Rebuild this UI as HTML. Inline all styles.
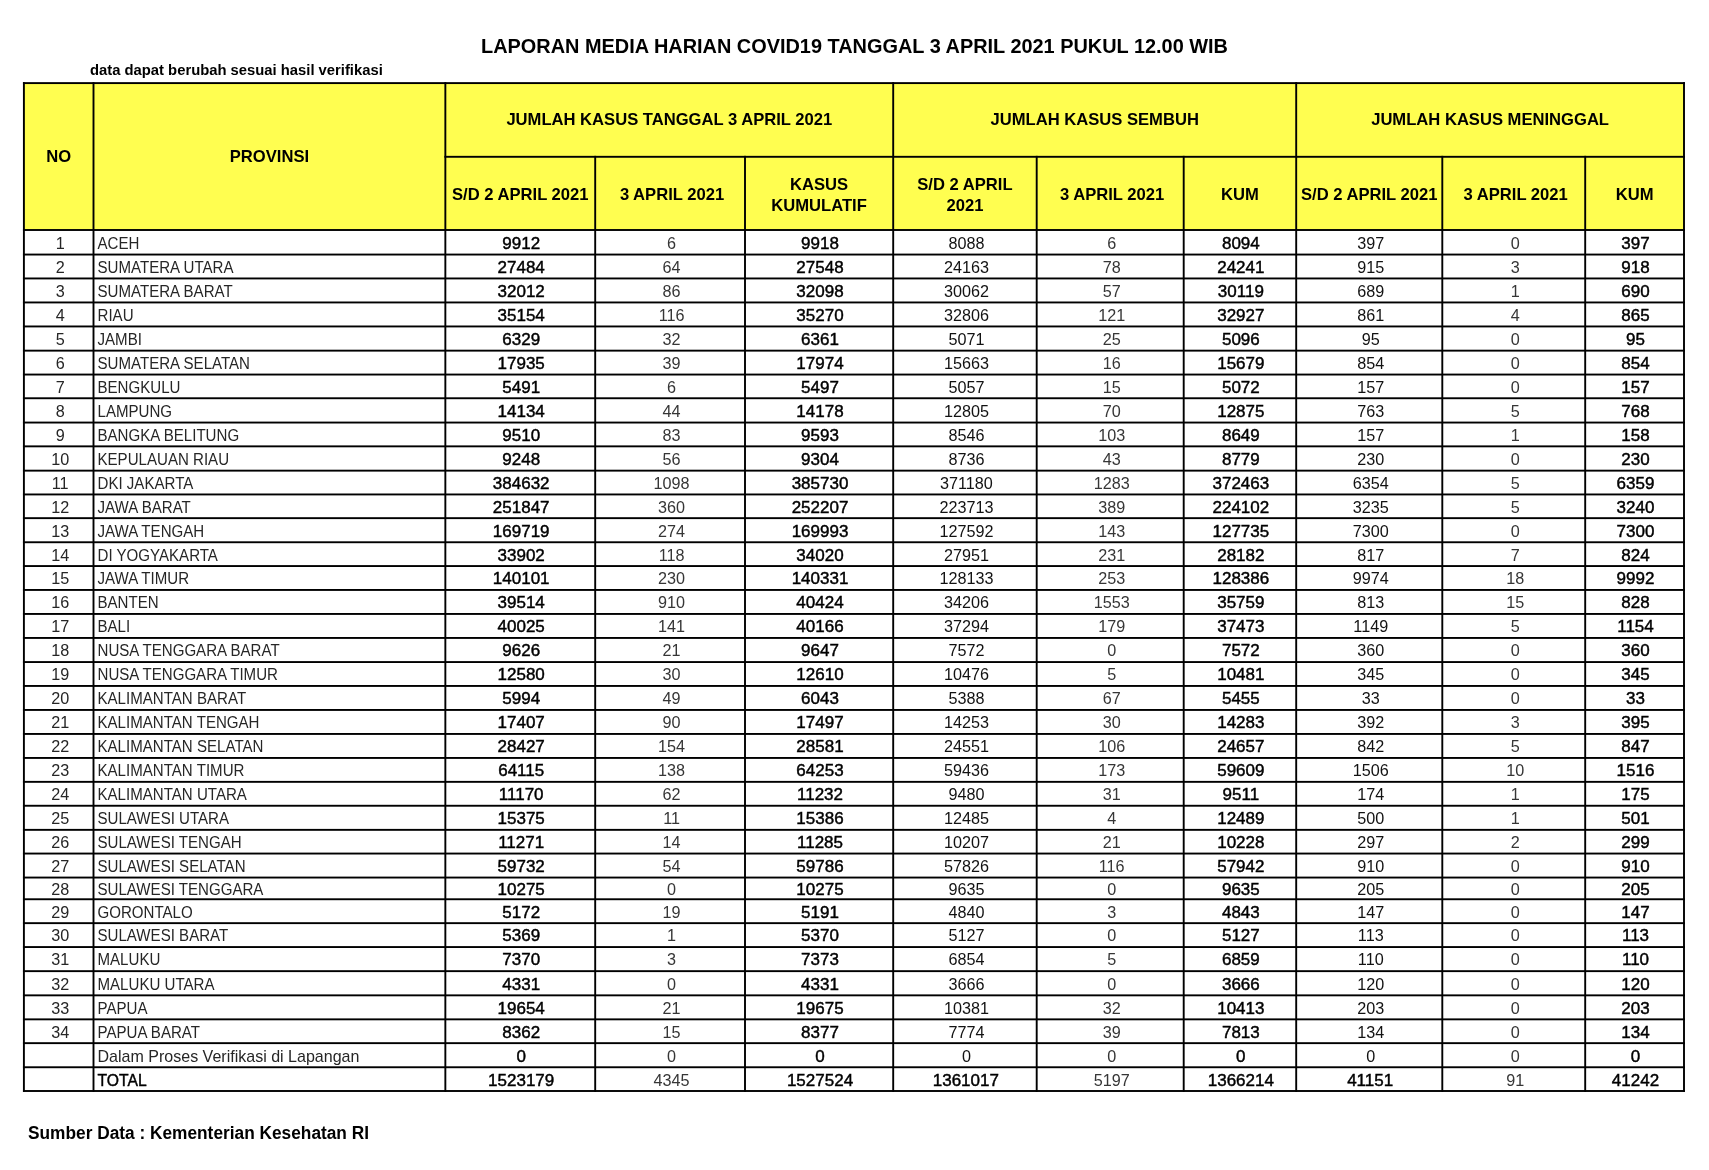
<!DOCTYPE html><html><head><meta charset="utf-8"><style>
html,body{margin:0;padding:0;background:#fff;width:1709px;height:1170px;overflow:hidden}
svg{position:absolute;left:0;top:0;will-change:transform}
text{font-family:"Liberation Sans",sans-serif;fill:#000}
.h{font-weight:bold;font-size:16.6px}
.r{font-size:16.2px;fill:#262626}
.n{font-size:15.1px}
.n2{font-size:16.05px}
.b{font-size:17.0px;stroke:#000;stroke-width:0.45px}
.g{fill:#363636}
.k{fill:#121212}
.m{text-anchor:middle}
</style></head><body>
<svg width="1709" height="1170" viewBox="0 0 1709 1170">
<rect x="23.90" y="83.10" width="1660.10" height="146.70" fill="#FFFE50"/>
<rect x="22.95" y="82.15" width="1662.00" height="1.90" fill="#000"/>
<rect x="444.40" y="155.85" width="1240.55" height="1.90" fill="#000"/>
<rect x="22.95" y="229.05" width="1662.00" height="1.90" fill="#000"/>
<rect x="22.95" y="253.60" width="1662.00" height="1.90" fill="#000"/>
<rect x="22.95" y="277.50" width="1662.00" height="1.90" fill="#000"/>
<rect x="22.95" y="301.50" width="1662.00" height="1.90" fill="#000"/>
<rect x="22.95" y="325.50" width="1662.00" height="1.90" fill="#000"/>
<rect x="22.95" y="349.70" width="1662.00" height="1.90" fill="#000"/>
<rect x="22.95" y="373.60" width="1662.00" height="1.90" fill="#000"/>
<rect x="22.95" y="397.30" width="1662.00" height="1.90" fill="#000"/>
<rect x="22.95" y="421.60" width="1662.00" height="1.90" fill="#000"/>
<rect x="22.95" y="445.40" width="1662.00" height="1.90" fill="#000"/>
<rect x="22.95" y="469.70" width="1662.00" height="1.90" fill="#000"/>
<rect x="22.95" y="493.50" width="1662.00" height="1.90" fill="#000"/>
<rect x="22.95" y="517.20" width="1662.00" height="1.90" fill="#000"/>
<rect x="22.95" y="541.30" width="1662.00" height="1.90" fill="#000"/>
<rect x="22.95" y="565.10" width="1662.00" height="1.90" fill="#000"/>
<rect x="22.95" y="589.00" width="1662.00" height="1.90" fill="#000"/>
<rect x="22.95" y="613.00" width="1662.00" height="1.90" fill="#000"/>
<rect x="22.95" y="637.00" width="1662.00" height="1.90" fill="#000"/>
<rect x="22.95" y="661.10" width="1662.00" height="1.90" fill="#000"/>
<rect x="22.95" y="685.00" width="1662.00" height="1.90" fill="#000"/>
<rect x="22.95" y="709.00" width="1662.00" height="1.90" fill="#000"/>
<rect x="22.95" y="733.00" width="1662.00" height="1.90" fill="#000"/>
<rect x="22.95" y="757.00" width="1662.00" height="1.90" fill="#000"/>
<rect x="22.95" y="780.90" width="1662.00" height="1.90" fill="#000"/>
<rect x="22.95" y="804.80" width="1662.00" height="1.90" fill="#000"/>
<rect x="22.95" y="828.90" width="1662.00" height="1.90" fill="#000"/>
<rect x="22.95" y="852.60" width="1662.00" height="1.90" fill="#000"/>
<rect x="22.95" y="876.60" width="1662.00" height="1.90" fill="#000"/>
<rect x="22.95" y="898.30" width="1662.00" height="1.90" fill="#000"/>
<rect x="22.95" y="922.20" width="1662.00" height="1.90" fill="#000"/>
<rect x="22.95" y="946.10" width="1662.00" height="1.90" fill="#000"/>
<rect x="22.95" y="970.20" width="1662.00" height="1.90" fill="#000"/>
<rect x="22.95" y="994.40" width="1662.00" height="1.90" fill="#000"/>
<rect x="22.95" y="1018.40" width="1662.00" height="1.90" fill="#000"/>
<rect x="22.95" y="1042.20" width="1662.00" height="1.90" fill="#000"/>
<rect x="22.95" y="1066.30" width="1662.00" height="1.90" fill="#000"/>
<rect x="22.95" y="1090.05" width="1662.00" height="1.90" fill="#000"/>
<rect x="22.95" y="82.15" width="1.90" height="1009.80" fill="#000"/>
<rect x="92.55" y="82.15" width="1.90" height="1009.80" fill="#000"/>
<rect x="444.40" y="82.15" width="1.90" height="1009.80" fill="#000"/>
<rect x="594.25" y="155.85" width="1.90" height="936.10" fill="#000"/>
<rect x="744.05" y="155.85" width="1.90" height="936.10" fill="#000"/>
<rect x="892.25" y="82.15" width="1.90" height="1009.80" fill="#000"/>
<rect x="1035.75" y="155.85" width="1.90" height="936.10" fill="#000"/>
<rect x="1182.75" y="155.85" width="1.90" height="936.10" fill="#000"/>
<rect x="1295.25" y="82.15" width="1.90" height="1009.80" fill="#000"/>
<rect x="1441.35" y="155.85" width="1.90" height="936.10" fill="#000"/>
<rect x="1584.25" y="155.85" width="1.90" height="936.10" fill="#000"/>
<rect x="1683.05" y="82.15" width="1.90" height="1009.80" fill="#000"/>
<text x="481" y="53" style="font-weight:bold;font-size:19.92px">LAPORAN MEDIA HARIAN COVID19 TANGGAL 3 APRIL 2021 PUKUL 12.00 WIB</text>
<text x="90" y="74.8" style="font-weight:bold;font-size:14.8px">data dapat berubah sesuai hasil verifikasi</text>
<text x="58.70" y="161.50" class="h m">NO</text>
<text x="269.43" y="161.50" class="h m">PROVINSI</text>
<text x="669.28" y="124.90" class="h m">JUMLAH KASUS TANGGAL 3 APRIL 2021</text>
<text x="1094.70" y="124.90" class="h m">JUMLAH KASUS SEMBUH</text>
<text x="1490.10" y="124.90" class="h m">JUMLAH KASUS MENINGGAL</text>
<text x="520.28" y="199.60" class="h m">S/D 2 APRIL 2021</text>
<text x="672.00" y="199.60" class="h m">3 APRIL 2021</text>
<text x="819.10" y="189.80" class="h m">KASUS</text>
<text x="819.10" y="210.90" class="h m">KUMULATIF</text>
<text x="964.95" y="189.80" class="h m">S/D 2 APRIL</text>
<text x="964.95" y="210.90" class="h m">2021</text>
<text x="1112.10" y="199.60" class="h m">3 APRIL 2021</text>
<text x="1239.95" y="199.60" class="h m">KUM</text>
<text x="1369.25" y="199.60" class="h m">S/D 2 APRIL 2021</text>
<text x="1515.65" y="199.60" class="h m">3 APRIL 2021</text>
<text x="1634.60" y="199.60" class="h m">KUM</text>
<text x="60.20" y="248.70" class="r m">1</text>
<text transform="translate(97.50 248.70) scale(0.9320 1)" class="r">ACEH</text>
<text x="521.18" y="248.70" class="b m">9912</text>
<text x="671.60" y="248.70" class="r g m">6</text>
<text x="820.00" y="248.70" class="b m">9918</text>
<text x="966.45" y="248.70" class="r k m">8088</text>
<text x="1111.70" y="248.70" class="r g m">6</text>
<text x="1240.85" y="248.70" class="b m">8094</text>
<text x="1370.75" y="248.70" class="r k m">397</text>
<text x="1515.25" y="248.70" class="r g m">0</text>
<text x="1635.50" y="248.70" class="b m">397</text>
<text x="60.20" y="272.85" class="r m">2</text>
<text transform="translate(97.50 272.85) scale(0.9320 1)" class="r">SUMATERA UTARA</text>
<text x="521.18" y="272.85" class="b m">27484</text>
<text x="671.60" y="272.85" class="r g m">64</text>
<text x="820.00" y="272.85" class="b m">27548</text>
<text x="966.45" y="272.85" class="r k m">24163</text>
<text x="1111.70" y="272.85" class="r g m">78</text>
<text x="1240.85" y="272.85" class="b m">24241</text>
<text x="1370.75" y="272.85" class="r k m">915</text>
<text x="1515.25" y="272.85" class="r g m">3</text>
<text x="1635.50" y="272.85" class="b m">918</text>
<text x="60.20" y="296.80" class="r m">3</text>
<text transform="translate(97.50 296.80) scale(0.9320 1)" class="r">SUMATERA BARAT</text>
<text x="521.18" y="296.80" class="b m">32012</text>
<text x="671.60" y="296.80" class="r g m">86</text>
<text x="820.00" y="296.80" class="b m">32098</text>
<text x="966.45" y="296.80" class="r k m">30062</text>
<text x="1111.70" y="296.80" class="r g m">57</text>
<text x="1240.85" y="296.80" class="b m">30119</text>
<text x="1370.75" y="296.80" class="r k m">689</text>
<text x="1515.25" y="296.80" class="r g m">1</text>
<text x="1635.50" y="296.80" class="b m">690</text>
<text x="60.20" y="320.80" class="r m">4</text>
<text transform="translate(97.50 320.80) scale(0.9320 1)" class="r">RIAU</text>
<text x="521.18" y="320.80" class="b m">35154</text>
<text x="671.60" y="320.80" class="r g m">116</text>
<text x="820.00" y="320.80" class="b m">35270</text>
<text x="966.45" y="320.80" class="r k m">32806</text>
<text x="1111.70" y="320.80" class="r g m">121</text>
<text x="1240.85" y="320.80" class="b m">32927</text>
<text x="1370.75" y="320.80" class="r k m">861</text>
<text x="1515.25" y="320.80" class="r g m">4</text>
<text x="1635.50" y="320.80" class="b m">865</text>
<text x="60.20" y="344.90" class="r m">5</text>
<text transform="translate(97.50 344.90) scale(0.9320 1)" class="r">JAMBI</text>
<text x="521.18" y="344.90" class="b m">6329</text>
<text x="671.60" y="344.90" class="r g m">32</text>
<text x="820.00" y="344.90" class="b m">6361</text>
<text x="966.45" y="344.90" class="r k m">5071</text>
<text x="1111.70" y="344.90" class="r g m">25</text>
<text x="1240.85" y="344.90" class="b m">5096</text>
<text x="1370.75" y="344.90" class="r k m">95</text>
<text x="1515.25" y="344.90" class="r g m">0</text>
<text x="1635.50" y="344.90" class="b m">95</text>
<text x="60.20" y="368.95" class="r m">6</text>
<text transform="translate(97.50 368.95) scale(0.9320 1)" class="r">SUMATERA SELATAN</text>
<text x="521.18" y="368.95" class="b m">17935</text>
<text x="671.60" y="368.95" class="r g m">39</text>
<text x="820.00" y="368.95" class="b m">17974</text>
<text x="966.45" y="368.95" class="r k m">15663</text>
<text x="1111.70" y="368.95" class="r g m">16</text>
<text x="1240.85" y="368.95" class="b m">15679</text>
<text x="1370.75" y="368.95" class="r k m">854</text>
<text x="1515.25" y="368.95" class="r g m">0</text>
<text x="1635.50" y="368.95" class="b m">854</text>
<text x="60.20" y="392.75" class="r m">7</text>
<text transform="translate(97.50 392.75) scale(0.9320 1)" class="r">BENGKULU</text>
<text x="521.18" y="392.75" class="b m">5491</text>
<text x="671.60" y="392.75" class="r g m">6</text>
<text x="820.00" y="392.75" class="b m">5497</text>
<text x="966.45" y="392.75" class="r k m">5057</text>
<text x="1111.70" y="392.75" class="r g m">15</text>
<text x="1240.85" y="392.75" class="b m">5072</text>
<text x="1370.75" y="392.75" class="r k m">157</text>
<text x="1515.25" y="392.75" class="r g m">0</text>
<text x="1635.50" y="392.75" class="b m">157</text>
<text x="60.20" y="416.75" class="r m">8</text>
<text transform="translate(97.50 416.75) scale(0.9320 1)" class="r">LAMPUNG</text>
<text x="521.18" y="416.75" class="b m">14134</text>
<text x="671.60" y="416.75" class="r g m">44</text>
<text x="820.00" y="416.75" class="b m">14178</text>
<text x="966.45" y="416.75" class="r k m">12805</text>
<text x="1111.70" y="416.75" class="r g m">70</text>
<text x="1240.85" y="416.75" class="b m">12875</text>
<text x="1370.75" y="416.75" class="r k m">763</text>
<text x="1515.25" y="416.75" class="r g m">5</text>
<text x="1635.50" y="416.75" class="b m">768</text>
<text x="60.20" y="440.80" class="r m">9</text>
<text transform="translate(97.50 440.80) scale(0.9320 1)" class="r">BANGKA BELITUNG</text>
<text x="521.18" y="440.80" class="b m">9510</text>
<text x="671.60" y="440.80" class="r g m">83</text>
<text x="820.00" y="440.80" class="b m">9593</text>
<text x="966.45" y="440.80" class="r k m">8546</text>
<text x="1111.70" y="440.80" class="r g m">103</text>
<text x="1240.85" y="440.80" class="b m">8649</text>
<text x="1370.75" y="440.80" class="r k m">157</text>
<text x="1515.25" y="440.80" class="r g m">1</text>
<text x="1635.50" y="440.80" class="b m">158</text>
<text x="60.20" y="464.85" class="r m">10</text>
<text transform="translate(97.50 464.85) scale(0.9320 1)" class="r">KEPULAUAN RIAU</text>
<text x="521.18" y="464.85" class="b m">9248</text>
<text x="671.60" y="464.85" class="r g m">56</text>
<text x="820.00" y="464.85" class="b m">9304</text>
<text x="966.45" y="464.85" class="r k m">8736</text>
<text x="1111.70" y="464.85" class="r g m">43</text>
<text x="1240.85" y="464.85" class="b m">8779</text>
<text x="1370.75" y="464.85" class="r k m">230</text>
<text x="1515.25" y="464.85" class="r g m">0</text>
<text x="1635.50" y="464.85" class="b m">230</text>
<text x="60.20" y="488.90" class="r m">11</text>
<text transform="translate(97.50 488.90) scale(0.9320 1)" class="r">DKI JAKARTA</text>
<text x="521.18" y="488.90" class="b m">384632</text>
<text x="671.60" y="488.90" class="r g m">1098</text>
<text x="820.00" y="488.90" class="b m">385730</text>
<text x="966.45" y="488.90" class="r k m">371180</text>
<text x="1111.70" y="488.90" class="r g m">1283</text>
<text x="1240.85" y="488.90" class="b m">372463</text>
<text x="1370.75" y="488.90" class="r k m">6354</text>
<text x="1515.25" y="488.90" class="r g m">5</text>
<text x="1635.50" y="488.90" class="b m">6359</text>
<text x="60.20" y="512.65" class="r m">12</text>
<text transform="translate(97.50 512.65) scale(0.9320 1)" class="r">JAWA BARAT</text>
<text x="521.18" y="512.65" class="b m">251847</text>
<text x="671.60" y="512.65" class="r g m">360</text>
<text x="820.00" y="512.65" class="b m">252207</text>
<text x="966.45" y="512.65" class="r k m">223713</text>
<text x="1111.70" y="512.65" class="r g m">389</text>
<text x="1240.85" y="512.65" class="b m">224102</text>
<text x="1370.75" y="512.65" class="r k m">3235</text>
<text x="1515.25" y="512.65" class="r g m">5</text>
<text x="1635.50" y="512.65" class="b m">3240</text>
<text x="60.20" y="536.55" class="r m">13</text>
<text transform="translate(97.50 536.55) scale(0.9320 1)" class="r">JAWA TENGAH</text>
<text x="521.18" y="536.55" class="b m">169719</text>
<text x="671.60" y="536.55" class="r g m">274</text>
<text x="820.00" y="536.55" class="b m">169993</text>
<text x="966.45" y="536.55" class="r k m">127592</text>
<text x="1111.70" y="536.55" class="r g m">143</text>
<text x="1240.85" y="536.55" class="b m">127735</text>
<text x="1370.75" y="536.55" class="r k m">7300</text>
<text x="1515.25" y="536.55" class="r g m">0</text>
<text x="1635.50" y="536.55" class="b m">7300</text>
<text x="60.20" y="560.50" class="r m">14</text>
<text transform="translate(97.50 560.50) scale(0.9320 1)" class="r">DI YOGYAKARTA</text>
<text x="521.18" y="560.50" class="b m">33902</text>
<text x="671.60" y="560.50" class="r g m">118</text>
<text x="820.00" y="560.50" class="b m">34020</text>
<text x="966.45" y="560.50" class="r k m">27951</text>
<text x="1111.70" y="560.50" class="r g m">231</text>
<text x="1240.85" y="560.50" class="b m">28182</text>
<text x="1370.75" y="560.50" class="r k m">817</text>
<text x="1515.25" y="560.50" class="r g m">7</text>
<text x="1635.50" y="560.50" class="b m">824</text>
<text x="60.20" y="584.35" class="r m">15</text>
<text transform="translate(97.50 584.35) scale(0.9320 1)" class="r">JAWA TIMUR</text>
<text x="521.18" y="584.35" class="b m">140101</text>
<text x="671.60" y="584.35" class="r g m">230</text>
<text x="820.00" y="584.35" class="b m">140331</text>
<text x="966.45" y="584.35" class="r k m">128133</text>
<text x="1111.70" y="584.35" class="r g m">253</text>
<text x="1240.85" y="584.35" class="b m">128386</text>
<text x="1370.75" y="584.35" class="r k m">9974</text>
<text x="1515.25" y="584.35" class="r g m">18</text>
<text x="1635.50" y="584.35" class="b m">9992</text>
<text x="60.20" y="608.30" class="r m">16</text>
<text transform="translate(97.50 608.30) scale(0.9320 1)" class="r">BANTEN</text>
<text x="521.18" y="608.30" class="b m">39514</text>
<text x="671.60" y="608.30" class="r g m">910</text>
<text x="820.00" y="608.30" class="b m">40424</text>
<text x="966.45" y="608.30" class="r k m">34206</text>
<text x="1111.70" y="608.30" class="r g m">1553</text>
<text x="1240.85" y="608.30" class="b m">35759</text>
<text x="1370.75" y="608.30" class="r k m">813</text>
<text x="1515.25" y="608.30" class="r g m">15</text>
<text x="1635.50" y="608.30" class="b m">828</text>
<text x="60.20" y="632.30" class="r m">17</text>
<text transform="translate(97.50 632.30) scale(0.9320 1)" class="r">BALI</text>
<text x="521.18" y="632.30" class="b m">40025</text>
<text x="671.60" y="632.30" class="r g m">141</text>
<text x="820.00" y="632.30" class="b m">40166</text>
<text x="966.45" y="632.30" class="r k m">37294</text>
<text x="1111.70" y="632.30" class="r g m">179</text>
<text x="1240.85" y="632.30" class="b m">37473</text>
<text x="1370.75" y="632.30" class="r k m">1149</text>
<text x="1515.25" y="632.30" class="r g m">5</text>
<text x="1635.50" y="632.30" class="b m">1154</text>
<text x="60.20" y="656.35" class="r m">18</text>
<text transform="translate(97.50 656.35) scale(0.9320 1)" class="r">NUSA TENGGARA BARAT</text>
<text x="521.18" y="656.35" class="b m">9626</text>
<text x="671.60" y="656.35" class="r g m">21</text>
<text x="820.00" y="656.35" class="b m">9647</text>
<text x="966.45" y="656.35" class="r k m">7572</text>
<text x="1111.70" y="656.35" class="r g m">0</text>
<text x="1240.85" y="656.35" class="b m">7572</text>
<text x="1370.75" y="656.35" class="r k m">360</text>
<text x="1515.25" y="656.35" class="r g m">0</text>
<text x="1635.50" y="656.35" class="b m">360</text>
<text x="60.20" y="680.35" class="r m">19</text>
<text transform="translate(97.50 680.35) scale(0.9320 1)" class="r">NUSA TENGGARA TIMUR</text>
<text x="521.18" y="680.35" class="b m">12580</text>
<text x="671.60" y="680.35" class="r g m">30</text>
<text x="820.00" y="680.35" class="b m">12610</text>
<text x="966.45" y="680.35" class="r k m">10476</text>
<text x="1111.70" y="680.35" class="r g m">5</text>
<text x="1240.85" y="680.35" class="b m">10481</text>
<text x="1370.75" y="680.35" class="r k m">345</text>
<text x="1515.25" y="680.35" class="r g m">0</text>
<text x="1635.50" y="680.35" class="b m">345</text>
<text x="60.20" y="704.30" class="r m">20</text>
<text transform="translate(97.50 704.30) scale(0.9320 1)" class="r">KALIMANTAN BARAT</text>
<text x="521.18" y="704.30" class="b m">5994</text>
<text x="671.60" y="704.30" class="r g m">49</text>
<text x="820.00" y="704.30" class="b m">6043</text>
<text x="966.45" y="704.30" class="r k m">5388</text>
<text x="1111.70" y="704.30" class="r g m">67</text>
<text x="1240.85" y="704.30" class="b m">5455</text>
<text x="1370.75" y="704.30" class="r k m">33</text>
<text x="1515.25" y="704.30" class="r g m">0</text>
<text x="1635.50" y="704.30" class="b m">33</text>
<text x="60.20" y="728.30" class="r m">21</text>
<text transform="translate(97.50 728.30) scale(0.9320 1)" class="r">KALIMANTAN TENGAH</text>
<text x="521.18" y="728.30" class="b m">17407</text>
<text x="671.60" y="728.30" class="r g m">90</text>
<text x="820.00" y="728.30" class="b m">17497</text>
<text x="966.45" y="728.30" class="r k m">14253</text>
<text x="1111.70" y="728.30" class="r g m">30</text>
<text x="1240.85" y="728.30" class="b m">14283</text>
<text x="1370.75" y="728.30" class="r k m">392</text>
<text x="1515.25" y="728.30" class="r g m">3</text>
<text x="1635.50" y="728.30" class="b m">395</text>
<text x="60.20" y="752.30" class="r m">22</text>
<text transform="translate(97.50 752.30) scale(0.9320 1)" class="r">KALIMANTAN SELATAN</text>
<text x="521.18" y="752.30" class="b m">28427</text>
<text x="671.60" y="752.30" class="r g m">154</text>
<text x="820.00" y="752.30" class="b m">28581</text>
<text x="966.45" y="752.30" class="r k m">24551</text>
<text x="1111.70" y="752.30" class="r g m">106</text>
<text x="1240.85" y="752.30" class="b m">24657</text>
<text x="1370.75" y="752.30" class="r k m">842</text>
<text x="1515.25" y="752.30" class="r g m">5</text>
<text x="1635.50" y="752.30" class="b m">847</text>
<text x="60.20" y="776.25" class="r m">23</text>
<text transform="translate(97.50 776.25) scale(0.9320 1)" class="r">KALIMANTAN TIMUR</text>
<text x="521.18" y="776.25" class="b m">64115</text>
<text x="671.60" y="776.25" class="r g m">138</text>
<text x="820.00" y="776.25" class="b m">64253</text>
<text x="966.45" y="776.25" class="r k m">59436</text>
<text x="1111.70" y="776.25" class="r g m">173</text>
<text x="1240.85" y="776.25" class="b m">59609</text>
<text x="1370.75" y="776.25" class="r k m">1506</text>
<text x="1515.25" y="776.25" class="r g m">10</text>
<text x="1635.50" y="776.25" class="b m">1516</text>
<text x="60.20" y="800.15" class="r m">24</text>
<text transform="translate(97.50 800.15) scale(0.9320 1)" class="r">KALIMANTAN UTARA</text>
<text x="521.18" y="800.15" class="b m">11170</text>
<text x="671.60" y="800.15" class="r g m">62</text>
<text x="820.00" y="800.15" class="b m">11232</text>
<text x="966.45" y="800.15" class="r k m">9480</text>
<text x="1111.70" y="800.15" class="r g m">31</text>
<text x="1240.85" y="800.15" class="b m">9511</text>
<text x="1370.75" y="800.15" class="r k m">174</text>
<text x="1515.25" y="800.15" class="r g m">1</text>
<text x="1635.50" y="800.15" class="b m">175</text>
<text x="60.20" y="824.15" class="r m">25</text>
<text transform="translate(97.50 824.15) scale(0.9320 1)" class="r">SULAWESI UTARA</text>
<text x="521.18" y="824.15" class="b m">15375</text>
<text x="671.60" y="824.15" class="r g m">11</text>
<text x="820.00" y="824.15" class="b m">15386</text>
<text x="966.45" y="824.15" class="r k m">12485</text>
<text x="1111.70" y="824.15" class="r g m">4</text>
<text x="1240.85" y="824.15" class="b m">12489</text>
<text x="1370.75" y="824.15" class="r k m">500</text>
<text x="1515.25" y="824.15" class="r g m">1</text>
<text x="1635.50" y="824.15" class="b m">501</text>
<text x="60.20" y="848.05" class="r m">26</text>
<text transform="translate(97.50 848.05) scale(0.9320 1)" class="r">SULAWESI TENGAH</text>
<text x="521.18" y="848.05" class="b m">11271</text>
<text x="671.60" y="848.05" class="r g m">14</text>
<text x="820.00" y="848.05" class="b m">11285</text>
<text x="966.45" y="848.05" class="r k m">10207</text>
<text x="1111.70" y="848.05" class="r g m">21</text>
<text x="1240.85" y="848.05" class="b m">10228</text>
<text x="1370.75" y="848.05" class="r k m">297</text>
<text x="1515.25" y="848.05" class="r g m">2</text>
<text x="1635.50" y="848.05" class="b m">299</text>
<text x="60.20" y="871.90" class="r m">27</text>
<text transform="translate(97.50 871.90) scale(0.9320 1)" class="r">SULAWESI SELATAN</text>
<text x="521.18" y="871.90" class="b m">59732</text>
<text x="671.60" y="871.90" class="r g m">54</text>
<text x="820.00" y="871.90" class="b m">59786</text>
<text x="966.45" y="871.90" class="r k m">57826</text>
<text x="1111.70" y="871.90" class="r g m">116</text>
<text x="1240.85" y="871.90" class="b m">57942</text>
<text x="1370.75" y="871.90" class="r k m">910</text>
<text x="1515.25" y="871.90" class="r g m">0</text>
<text x="1635.50" y="871.90" class="b m">910</text>
<text x="60.20" y="894.75" class="r m">28</text>
<text transform="translate(97.50 894.75) scale(0.9320 1)" class="r">SULAWESI TENGGARA</text>
<text x="521.18" y="894.75" class="b m">10275</text>
<text x="671.60" y="894.75" class="r g m">0</text>
<text x="820.00" y="894.75" class="b m">10275</text>
<text x="966.45" y="894.75" class="r k m">9635</text>
<text x="1111.70" y="894.75" class="r g m">0</text>
<text x="1240.85" y="894.75" class="b m">9635</text>
<text x="1370.75" y="894.75" class="r k m">205</text>
<text x="1515.25" y="894.75" class="r g m">0</text>
<text x="1635.50" y="894.75" class="b m">205</text>
<text x="60.20" y="917.55" class="r m">29</text>
<text transform="translate(97.50 917.55) scale(0.9320 1)" class="r">GORONTALO</text>
<text x="521.18" y="917.55" class="b m">5172</text>
<text x="671.60" y="917.55" class="r g m">19</text>
<text x="820.00" y="917.55" class="b m">5191</text>
<text x="966.45" y="917.55" class="r k m">4840</text>
<text x="1111.70" y="917.55" class="r g m">3</text>
<text x="1240.85" y="917.55" class="b m">4843</text>
<text x="1370.75" y="917.55" class="r k m">147</text>
<text x="1515.25" y="917.55" class="r g m">0</text>
<text x="1635.50" y="917.55" class="b m">147</text>
<text x="60.20" y="941.45" class="r m">30</text>
<text transform="translate(97.50 941.45) scale(0.9320 1)" class="r">SULAWESI BARAT</text>
<text x="521.18" y="941.45" class="b m">5369</text>
<text x="671.60" y="941.45" class="r g m">1</text>
<text x="820.00" y="941.45" class="b m">5370</text>
<text x="966.45" y="941.45" class="r k m">5127</text>
<text x="1111.70" y="941.45" class="r g m">0</text>
<text x="1240.85" y="941.45" class="b m">5127</text>
<text x="1370.75" y="941.45" class="r k m">113</text>
<text x="1515.25" y="941.45" class="r g m">0</text>
<text x="1635.50" y="941.45" class="b m">113</text>
<text x="60.20" y="965.45" class="r m">31</text>
<text transform="translate(97.50 965.45) scale(0.9320 1)" class="r">MALUKU</text>
<text x="521.18" y="965.45" class="b m">7370</text>
<text x="671.60" y="965.45" class="r g m">3</text>
<text x="820.00" y="965.45" class="b m">7373</text>
<text x="966.45" y="965.45" class="r k m">6854</text>
<text x="1111.70" y="965.45" class="r g m">5</text>
<text x="1240.85" y="965.45" class="b m">6859</text>
<text x="1370.75" y="965.45" class="r k m">110</text>
<text x="1515.25" y="965.45" class="r g m">0</text>
<text x="1635.50" y="965.45" class="b m">110</text>
<text x="60.20" y="989.60" class="r m">32</text>
<text transform="translate(97.50 989.60) scale(0.9320 1)" class="r">MALUKU UTARA</text>
<text x="521.18" y="989.60" class="b m">4331</text>
<text x="671.60" y="989.60" class="r g m">0</text>
<text x="820.00" y="989.60" class="b m">4331</text>
<text x="966.45" y="989.60" class="r k m">3666</text>
<text x="1111.70" y="989.60" class="r g m">0</text>
<text x="1240.85" y="989.60" class="b m">3666</text>
<text x="1370.75" y="989.60" class="r k m">120</text>
<text x="1515.25" y="989.60" class="r g m">0</text>
<text x="1635.50" y="989.60" class="b m">120</text>
<text x="60.20" y="1013.70" class="r m">33</text>
<text transform="translate(97.50 1013.70) scale(0.9320 1)" class="r">PAPUA</text>
<text x="521.18" y="1013.70" class="b m">19654</text>
<text x="671.60" y="1013.70" class="r g m">21</text>
<text x="820.00" y="1013.70" class="b m">19675</text>
<text x="966.45" y="1013.70" class="r k m">10381</text>
<text x="1111.70" y="1013.70" class="r g m">32</text>
<text x="1240.85" y="1013.70" class="b m">10413</text>
<text x="1370.75" y="1013.70" class="r k m">203</text>
<text x="1515.25" y="1013.70" class="r g m">0</text>
<text x="1635.50" y="1013.70" class="b m">203</text>
<text x="60.20" y="1037.60" class="r m">34</text>
<text transform="translate(97.50 1037.60) scale(0.9320 1)" class="r">PAPUA BARAT</text>
<text x="521.18" y="1037.60" class="b m">8362</text>
<text x="671.60" y="1037.60" class="r g m">15</text>
<text x="820.00" y="1037.60" class="b m">8377</text>
<text x="966.45" y="1037.60" class="r k m">7774</text>
<text x="1111.70" y="1037.60" class="r g m">39</text>
<text x="1240.85" y="1037.60" class="b m">7813</text>
<text x="1370.75" y="1037.60" class="r k m">134</text>
<text x="1515.25" y="1037.60" class="r g m">0</text>
<text x="1635.50" y="1037.60" class="b m">134</text>
<text transform="translate(97.50 1061.55) scale(0.9900 1)" class="r">Dalam Proses Verifikasi di Lapangan</text>
<text x="521.18" y="1061.55" class="b m">0</text>
<text x="671.60" y="1061.55" class="r g m">0</text>
<text x="820.00" y="1061.55" class="b m">0</text>
<text x="966.45" y="1061.55" class="r k m">0</text>
<text x="1111.70" y="1061.55" class="r g m">0</text>
<text x="1240.85" y="1061.55" class="b m">0</text>
<text x="1370.75" y="1061.55" class="r k m">0</text>
<text x="1515.25" y="1061.55" class="r g m">0</text>
<text x="1635.50" y="1061.55" class="b m">0</text>
<text transform="translate(97.50 1085.65) scale(0.9250 1)" class="b">TOTAL</text>
<text x="521.18" y="1085.65" class="b m">1523179</text>
<text x="671.60" y="1085.65" class="r g m">4345</text>
<text x="820.00" y="1085.65" class="b m">1527524</text>
<text x="965.85" y="1085.65" class="b m">1361017</text>
<text x="1111.70" y="1085.65" class="r g m">5197</text>
<text x="1240.85" y="1085.65" class="b m">1366214</text>
<text x="1370.15" y="1085.65" class="b m">41151</text>
<text x="1515.25" y="1085.65" class="r g m">91</text>
<text x="1635.50" y="1085.65" class="b m">41242</text>
<text transform="translate(28 1138.6) scale(0.925 1)" style="font-weight:bold;font-size:18.7px">Sumber Data : Kementerian Kesehatan RI</text>
</svg></body></html>
